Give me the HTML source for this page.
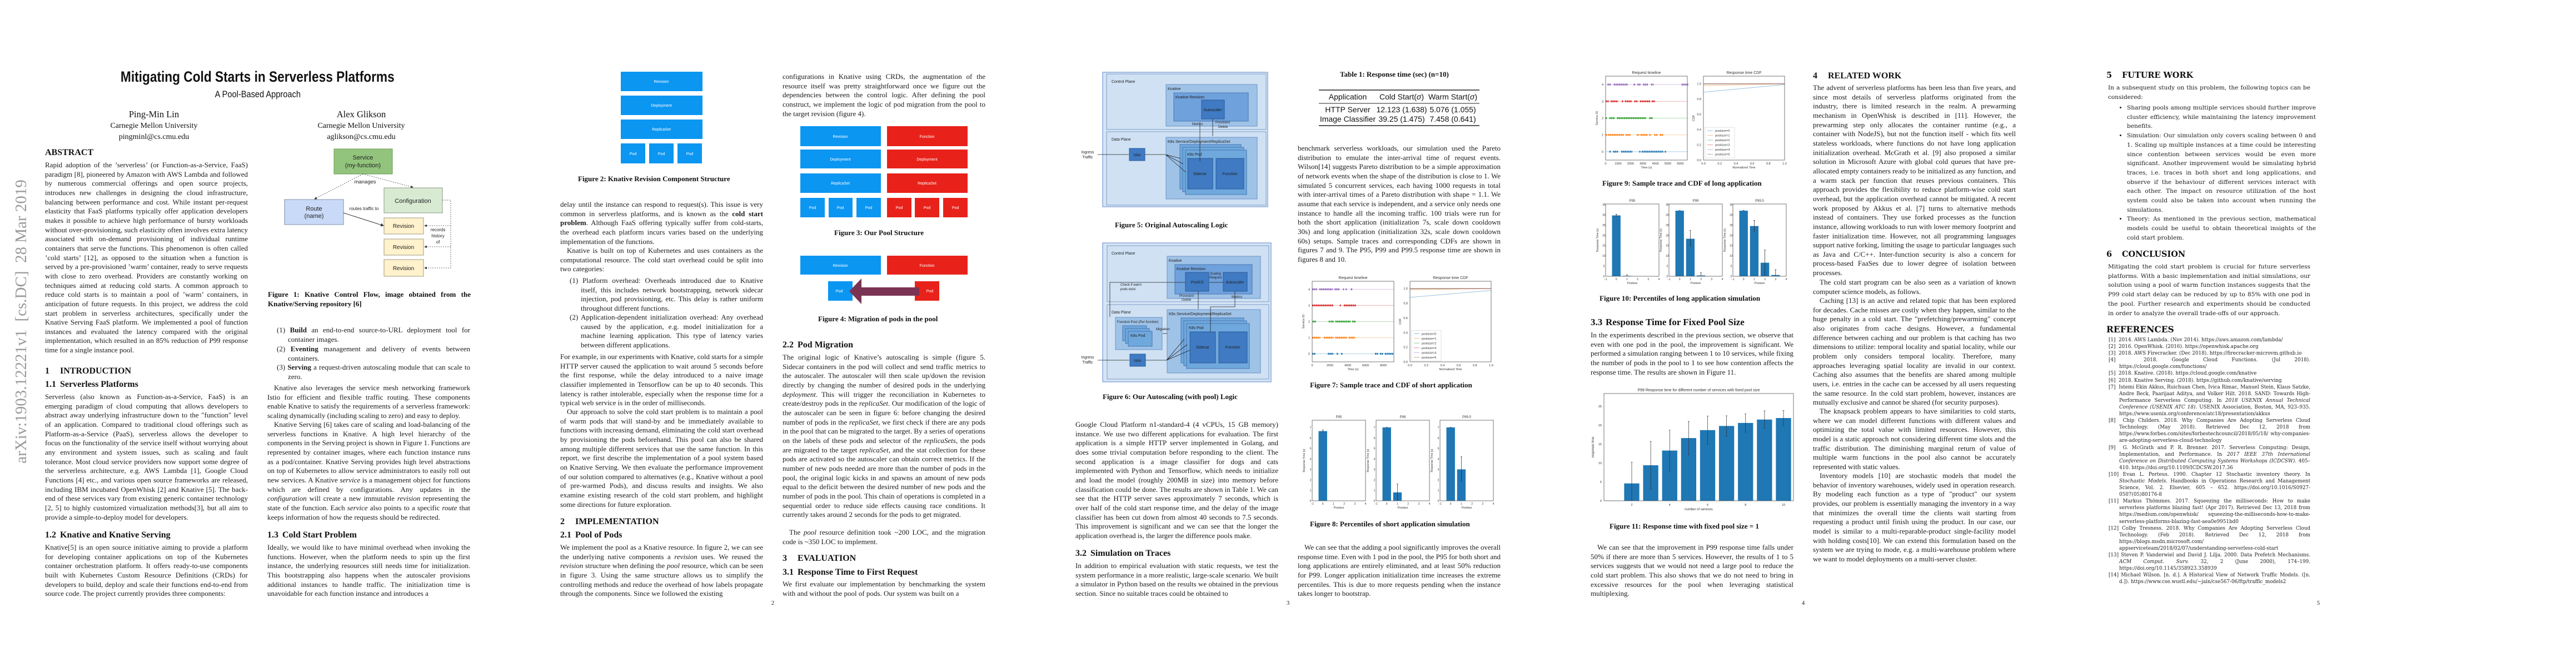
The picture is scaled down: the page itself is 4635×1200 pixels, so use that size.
<!DOCTYPE html>
<html><head><meta charset="utf-8"><title>Mitigating Cold Starts in Serverless Platforms</title>
<style>
html,body{margin:0;padding:0;background:#fff}
body{width:4635px;height:1200px;position:relative;overflow:hidden}
.pg{position:absolute;top:0;width:927px;height:1200px;background:#fff;overflow:hidden}
.p{position:absolute;margin:0;font:13px/16.65px "Liberation Serif",serif;text-align:justify;width:365px;color:#1b1b1b}
.ind{text-indent:12px}
.li{padding-left:37px;text-indent:-20px;width:328px}
.h{position:absolute;margin:0;font:bold 16px/20px "Liberation Serif",serif;color:#111;white-space:nowrap}
.h span{display:inline-block;width:27px}
.cap{position:absolute;margin:0;font:bold 13px/16.65px "Liberation Serif",serif;color:#111;white-space:nowrap}
.pn{position:absolute;top:1079px;left:0;width:927px;text-align:center;font:11px "Liberation Serif",serif;color:#222}
.p5{position:absolute;margin:0;font:10.6px/16.7px "DejaVu Serif",serif;text-align:justify;width:364px;color:#1b1b1b}
.h5{position:absolute;margin:0;font:bold 14.5px/18px "DejaVu Serif",serif;color:#111;white-space:nowrap}
.h5 span{display:inline-block;width:28px}
.ref{position:absolute;left:86px;width:363px;margin:0;font:8.8px/12.1px "DejaVu Serif",serif;color:#222}
.ref div{padding-left:19px;text-indent:-19px;text-align:justify}
svg{position:absolute;left:0;top:0}
svg text{font-family:"Liberation Sans",sans-serif}
</style></head><body>

<!-- PAGE 1 -->
<div class="pg" style="left:0">
<div style="position:absolute;left:-229px;top:562px;width:535px;text-align:center;font:29px 'Liberation Serif',serif;color:#9a9a9a;transform:rotate(-90deg);white-space:nowrap">arXiv:1903.12221v1&nbsp; [cs.DC]&nbsp; 28 Mar 2019</div>
<div style="position:absolute;left:0;width:927px;top:122px;text-align:center;font:bold 27px/32px 'Liberation Sans',sans-serif;color:#111"><span style="display:inline-block;transform:scaleX(0.84)">Mitigating Cold Starts in Serverless Platforms</span></div>
<div style="position:absolute;left:0;width:927px;top:160px;text-align:center;font:17px/20px 'Liberation Sans',sans-serif;color:#111"><span style="display:inline-block;transform:scaleX(0.86)">A Pool-Based Approach</span></div>
<div style="position:absolute;left:127px;width:300px;top:197px;text-align:center;font:16.5px/18.5px 'Liberation Serif',serif;color:#111">Ping-Min Lin<br><span style="font-size:14px">Carnegie Mellon University</span><br><span style="font-size:14px">pingminl@cs.cmu.edu</span></div>
<div style="position:absolute;left:500px;width:300px;top:197px;text-align:center;font:16.5px/18.5px 'Liberation Serif',serif;color:#111">Alex Glikson<br><span style="font-size:14px">Carnegie Mellon University</span><br><span style="font-size:14px">aglikson@cs.cmu.edu</span></div>
<div class="h" style="left:81px;top:265px">ABSTRACT</div>
<p class="p" style="left:81px;top:289px">Rapid adoption of the ’serverless’ (or Function-as-a-Service, FaaS) paradigm [8], pioneered by Amazon with AWS Lambda and followed by numerous commercial offerings and open source projects, introduces new challenges in designing the cloud infrastructure, balancing between performance and cost. While instant per-request elasticity that FaaS platforms typically offer application developers makes it possible to achieve high performance of bursty workloads without over-provisioning, such elasticity often involves extra latency associated with on-demand provisioning of individual runtime containers that serve the functions. This phenomenon is often called ’cold starts’ [12], as opposed to the situation when a function is served by a pre-provisioned ’warm’ container, ready to serve requests with close to zero overhead. Providers are constantly working on techniques aimed at reducing cold starts. A common approach to reduce cold starts is to maintain a pool of ’warm’ containers, in anticipation of future requests. In this project, we address the cold start problem in serverless architectures, specifically under the Knative Serving FaaS platform. We implemented a pool of function instances and evaluated the latency compared with the original implementation, which resulted in an 85% reduction of P99 response time for a single instance pool.</p>
<div class="h" style="left:81px;top:658px"><span>1</span>INTRODUCTION</div>
<div class="h" style="left:81px;top:682px"><span>1.1</span>Serverless Platforms</div>
<p class="p" style="left:81px;top:706px">Serverless (also known as Function-as-a-Service, FaaS) is an emerging paradigm of cloud computing that allows developers to abstract away underlying infrastructure down to the "function" level of an application. Compared to traditional cloud offerings such as Platform-as-a-Service (PaaS), serverless allows the developer to focus on the functionality of the service itself without worrying about any environment and system issues, such as scaling and fault tolerance. Most cloud service providers now support some degree of the serverless architecture, e.g. AWS Lambda [1], Google Cloud Functions [4] etc., and various open source frameworks are released, including IBM incubated OpenWhisk [2] and Knative [5]. The back-end of these services vary from existing generic container technology [2, 5] to highly customized virtualization methods[3], but all aim to provide a simple-to-deploy model for developers.</p>
<div class="h" style="left:81px;top:953px"><span>1.2</span>Knative and Knative Serving</div>
<p class="p" style="left:81px;top:977px">Knative[5] is an open source initiative aiming to provide a platform for developing container applications on top of the Kubernetes container orchestration platform. It offers ready-to-use components built with Kubernetes Custom Resource Definitions (CRDs) for developers to build, deploy and scale their functions end-to-end from source code. The project currently provides three components:</p>

<div class="cap" style="left:482px;top:522px;white-space:normal;width:365px;text-align:justify">Figure 1: Knative Control Flow, image obtained from the Knative/Serving repository [6]</div>
<p class="p li" style="left:481px;top:586px">(1) <b>Build</b> an end-to-end source-to-URL deployment tool for container images.</p>
<p class="p li" style="left:481px;top:620px">(2) <b>Eventing</b> management and delivery of events between containers.</p>
<p class="p li" style="left:481px;top:653px">(3) <b>Serving</b> a request-driven autoscaling module that can scale to zero.</p>
<p class="p ind" style="left:481px;top:690px">Knative also leverages the service mesh networking framework Istio for efficient and flexible traffic routing. These components enable Knative to satisfy the requirements of a serverless framework: scaling dynamically (including scaling to zero) and easy to deploy.</p>
<p class="p ind" style="left:481px;top:756px">Knative Serving [6] takes care of scaling and load-balancing of the serverless functions in Knative. A high level hierarchy of the components in the Serving project is shown in Figure 1. Functions are represented by container images, where each function instance runs as a pod/container. Knative Serving provides high level abstractions on top of Kubernetes to allow service administrators to easily roll out new services. A Knative <i>service</i> is a management object for functions which are defined by configurations. Any updates in the <i>configuration</i> will create a new immutable <i>revision</i> representing the state of the function. Each <i>service</i> also points to a specific <i>route</i> that keeps information of how the requests should be redirected.</p>
<div class="h" style="left:481px;top:953px"><span>1.3</span>Cold Start Problem</div>
<p class="p" style="left:481px;top:977px">Ideally, we would like to have minimal overhead when invoking the functions. However, when the platform needs to spin up the first instance, the underlying resources still needs time for initialization. This bootstrapping also happens when the autoscaler provisions additional instances to handle traffic. The initialization time is unavoidable for each function instance and introduces a</p>

<svg width="927" height="1200">
 <defs><marker id="ah" markerWidth="6" markerHeight="6" refX="5" refY="3" orient="auto"><path d="M0,0 L6,3 L0,6 z" fill="#333"/></marker></defs>
 <rect x="601" y="268" width="105" height="45" fill="#93c47d" stroke="#6a9a55"/>
 <text x="653" y="287" font-size="11" text-anchor="middle" fill="#222">Service</text>
 <text x="653" y="301" font-size="11" text-anchor="middle" fill="#222">(my-function)</text>
 <rect x="512" y="359" width="106" height="45" fill="#c9daf8" stroke="#7f8fa8"/>
 <text x="565" y="379" font-size="11" text-anchor="middle" fill="#222">Route</text>
 <text x="565" y="392" font-size="11" text-anchor="middle" fill="#222">(name)</text>
 <rect x="691" y="338" width="105" height="45" fill="#d9ead3" stroke="#8a9a86"/>
 <text x="743" y="365" font-size="11" text-anchor="middle" fill="#222">Configuration</text>
 <rect x="691" y="392" width="71" height="29" fill="#fff2cc" stroke="#a09a80"/>
 <rect x="691" y="430" width="71" height="29" fill="#fff2cc" stroke="#a09a80"/>
 <rect x="691" y="467" width="71" height="30" fill="#fff2cc" stroke="#a09a80"/>
 <text x="726" y="410" font-size="10" text-anchor="middle" fill="#222">Revision</text>
 <text x="726" y="448" font-size="10" text-anchor="middle" fill="#222">Revision</text>
 <text x="726" y="486" font-size="10" text-anchor="middle" fill="#222">Revision</text>
 <g stroke="#444" stroke-dasharray="2,2" fill="none" stroke-width="0.8">
  <line x1="653" y1="313" x2="566" y2="358" marker-end="url(#ah)"/>
  <line x1="653" y1="313" x2="743" y2="337" marker-end="url(#ah)"/>
  <polyline points="796,360 811,360 811,482 764,482" marker-end="url(#ah)"/>
  <line x1="811" y1="406" x2="764" y2="406" marker-end="url(#ah)"/>
  <line x1="811" y1="444" x2="764" y2="444" marker-end="url(#ah)"/>
 </g>
 <line x1="618" y1="383" x2="690" y2="406" stroke="#333" marker-end="url(#ah)"/>
 <text x="657" y="330" font-size="9.5" text-anchor="middle" fill="#222">manages</text>
 <text x="655" y="378" font-size="8" text-anchor="middle" fill="#222">routes traffic to</text>
 <text x="788" y="416" font-size="8" text-anchor="middle" fill="#222">records</text>
 <text x="788" y="427" font-size="8" text-anchor="middle" fill="#222">history</text>
 <text x="788" y="438" font-size="8" text-anchor="middle" fill="#222">of</text>
</svg>
</div>

<!-- PAGE 2 -->
<div class="pg" style="left:927px">
<svg width="927" height="1200">
 <g fill="#0b96f2">
  <rect x="190" y="129" width="147" height="35"/><rect x="190" y="172" width="147" height="35"/><rect x="190" y="215" width="147" height="35"/>
  <rect x="190" y="258" width="44" height="36"/><rect x="241" y="258" width="44" height="36"/><rect x="292" y="258" width="44" height="36"/>
 </g>
 <g fill="#fff" font-size="7" text-anchor="middle">
  <text x="263" y="149">Revision</text><text x="263" y="192">Deployment</text><text x="263" y="235">ReplicaSet</text>
  <text x="212" y="279">Pod</text><text x="263" y="279">Pod</text><text x="314" y="279">Pod</text>
 </g>
 <g>
  <g fill="#0b96f2"><rect x="513" y="227" width="145" height="36"/><rect x="513" y="269" width="145" height="34"/><rect x="513" y="312" width="145" height="35"/>
   <rect x="513" y="356" width="44" height="35"/><rect x="564" y="356" width="43" height="35"/><rect x="614" y="356" width="44" height="35"/></g>
  <g fill="#e8221a"><rect x="669" y="227" width="145" height="36"/><rect x="669" y="269" width="145" height="34"/><rect x="669" y="312" width="145" height="35"/>
   <rect x="669" y="356" width="44" height="35"/><rect x="719" y="356" width="44" height="35"/><rect x="770" y="356" width="44" height="35"/></g>
  <g fill="#fff" font-size="7" text-anchor="middle">
   <text x="585" y="248">Revision</text><text x="585" y="289">Deployment</text><text x="585" y="332">ReplicaSet</text>
   <text x="741" y="248">Function</text><text x="741" y="289">Deployment</text><text x="741" y="332">ReplicaSet</text>
   <text x="535" y="376">Pod</text><text x="585" y="376">Pod</text><text x="636" y="376">Pod</text>
   <text x="691" y="376">Pod</text><text x="741" y="376">Pod</text><text x="792" y="376">Pod</text></g>
 </g>
 <g>
  <rect x="513" y="460" width="145" height="34" fill="#0b96f2"/><rect x="669" y="460" width="145" height="34" fill="#e8221a"/>
  <rect x="563" y="506" width="44" height="35" fill="#0b96f2"/><rect x="719" y="506" width="44" height="35" fill="#e8221a"/>
  <polygon points="601,524 623,501 623,517 727,517 727,532 623,532 623,547" fill="#7b3354"/>
  <g fill="#fff" font-size="7" text-anchor="middle"><text x="585" y="480">Revision</text><text x="741" y="480">Function</text><text x="583" y="526">Pod</text><text x="746" y="526">Pod</text></g>
 </g>
</svg>
<div class="cap" style="left:113px;top:314px">Figure 2: Knative Revision Component Structure</div>
<p class="p" style="left:81px;top:360px">delay until the instance can respond to request(s). This issue is very common in serverless platforms, and is known as the <b>cold start problem</b>. Although FaaS offering typically suffer from cold-starts, the overhead each platform incurs varies based on the underlying implementation of the functions.</p>
<p class="p ind" style="left:81px;top:443px">Knative is built on top of Kubernetes and uses containers as the computational resource. The cold start overhead could be split into two categories:</p>
<p class="p li" style="left:81px;top:497px">(1) Platform overhead: Overheads introduced due to Knative itself, this includes network bootstrapping, network sidecar injection, pod provisioning, etc. This delay is rather uniform throughout different functions.</p>
<p class="p li" style="left:81px;top:563px">(2) Application-dependent initialization overhead: Any overhead caused by the application, e.g. model initialization for a machine learning application. This type of latency varies between different applications.</p>
<p class="p" style="left:81px;top:634px">For example, in our experiments with Knative, cold starts for a simple HTTP server caused the application to wait around 5 seconds before the first response, while the delay introduced to a naive image classifier implemented in Tensorflow can be up to 40 seconds. This latency is rather intolerable, especially when the response time for a typical web service is in the order of milliseconds.</p>
<p class="p ind" style="left:81px;top:733px">Our approach to solve the cold start problem is to maintain a pool of warm pods that will stand-by and be immediately available to functions with increasing demand, eliminating the cold start overhead by provisioning the pods beforehand. This pool can also be shared among multiple different services that use the same function. In this report, we first describe the implementation of a pool system based on Knative Serving. We then evaluate the performance improvement of our solution compared to alternatives (e.g., Knative without a pool of pre-warmed Pods), and discuss results and insights. We also examine existing research of the cold start problem, and highlight some directions for future exploration.</p>
<div class="h" style="left:81px;top:929px"><span>2</span>IMPLEMENTATION</div>
<div class="h" style="left:81px;top:953px"><span>2.1</span>Pool of Pods</div>
<p class="p" style="left:81px;top:977px">We implement the pool as a Knative resource. In figure 2, we can see the underlying native components a <i>revision</i> uses. We reused the <i>revision</i> structure when defining the <i>pool</i> resource, which can be seen in figure 3. Using the same structure allows us to simplify the controlling methods and reduce the overhead of how labels propagate through the components. Since we followed the existing</p>

<p class="p" style="left:481px;top:130px">configurations in Knative using CRDs, the augmentation of the resource itself was pretty straightforward once we figure out the dependencies between the control logic. After defining the pool construct, we implement the logic of pod migration from the pool to the target revision (figure 4).</p>
<div class="cap" style="left:574px;top:411px">Figure 3: Our Pool Structure</div>
<div class="cap" style="left:545px;top:566px">Figure 4: Migration of pods in the pool</div>
<div class="h" style="left:481px;top:611px"><span>2.2</span>Pod Migration</div>
<p class="p" style="left:481px;top:635px">The original logic of Knative’s autoscaling is simple (figure 5. Sidecar containers in the pod will collect and send traffic metrics to the autoscaler. The autoscaler will then scale up/down the revision directly by changing the number of desired pods in the underlying <i>deployment</i>. This will trigger the reconciliation in Kubernetes to create/destroy pods in the <i>replicaSet</i>. Our modification of the logic of the autoscaler can be seen in figure 6: before changing the desired number of pods in the <i>replicaSet</i>, we first check if there are any pods in the pool that can be migrated to the target. By a series of operations on the labels of these pods and selector of the <i>replicaSets</i>, the pods are migrated to the target <i>replicaSet</i>, and the stat collection for these pods are activated so the autoscaler can obtain correct metrics. If the number of new pods needed are more than the number of pods in the pool, the original logic kicks in and spawns an amount of new pods equal to the deficit between the desired number of new pods and the number of pods in the pool. This chain of operations is completed in a sequential order to reduce side effects causing race conditions. It currently takes around 2 seconds for the pods to get migrated.</p>
<p class="p ind" style="left:481px;top:950px">The <i>pool</i> resource definition took ~200 LOC, and the migration code is ~350 LOC to implement.</p>
<div class="h" style="left:481px;top:995px"><span>3</span>EVALUATION</div>
<div class="h" style="left:481px;top:1020px"><span>3.1</span>Response Time to First Request</div>
<p class="p" style="left:481px;top:1043px">We first evaluate our implementation by benchmarking the system with and without the pool of pods. Our system was built on a</p>
<div class="pn">2</div>
</div>

<!-- PAGE 3 -->
<div class="pg" style="left:1854px">
<svg width="927" height="1200" id="svg3">
 <g font-size="7" fill="#222">
  <rect x="130" y="130" width="297" height="242" fill="#d5e5f5" stroke="#8eaadb" stroke-width="1.5"/>
  <rect x="137" y="133" width="287" height="100" fill="#cfe1f3" stroke="#7f9cc9"/>
  <rect x="137" y="237" width="287" height="132" fill="#cfe1f3" stroke="#7f9cc9"/>
  <text x="146" y="149" fill="#222">Control Plane</text><text x="146" y="253" fill="#222">Data Plane</text>
  <rect x="244" y="152" width="164" height="75" fill="#9fc2e7" stroke="#6d93c6"/><text x="247" y="162">Knative</text>
  <rect x="258" y="167" width="134" height="51" fill="#6fa1dc" stroke="#4a77b3"/><text x="261" y="177">Knative Revision</text>
  <rect x="308" y="180" width="41" height="34" fill="#3f7ac2" stroke="#2b5a99"/><text x="328" y="200" text-anchor="middle">Autoscaler</text>
  <rect x="244" y="247" width="164" height="111" fill="#9fc2e7" stroke="#6d93c6"/><text x="247" y="257">K8s Service/Deployment/ReplicaSet</text>
  <rect x="269" y="260" width="110" height="80" fill="#6fa8dc" stroke="#4a77b3"/>
  <rect x="274" y="265" width="110" height="80" fill="#6fa8dc" stroke="#4a77b3"/>
  <rect x="279" y="270" width="110" height="80" fill="#6fa8dc" stroke="#4a77b3"/><text x="282" y="280">K8s Pod</text>
  <rect x="283" y="285" width="45" height="55" fill="#3f7ac2" stroke="#2b5a99"/><text x="305" y="315" text-anchor="middle">Sidecar</text>
  <rect x="334" y="285" width="50" height="55" fill="#3f7ac2" stroke="#2b5a99"/><text x="359" y="315" text-anchor="middle">Function</text>
  <rect x="178" y="267" width="28" height="22" fill="#3f7ac2" stroke="#2b5a99"/><text x="192" y="281" text-anchor="middle">Istio</text>
  <text x="103" y="276" text-anchor="middle">Ingress</text><text x="103" y="285" text-anchor="middle">Traffic</text>
  <g stroke="#222" stroke-width="0.8" fill="none"><line x1="121" y1="278" x2="177" y2="278"/><line x1="206" y1="278" x2="242" y2="278"/>
   <line x1="243" y1="278" x2="270" y2="285"/><line x1="243" y1="278" x2="275" y2="295"/><line x1="243" y1="278" x2="280" y2="310"/>
   <line x1="305" y1="290" x2="305" y2="220"/><line x1="328" y1="214" x2="328" y2="245"/></g>
  <text x="291" y="225" font-size="6">Metrics</text><text x="333" y="222" font-size="6">Provision/</text><text x="338" y="230" font-size="6">Delete</text>
 </g>
 <g font-size="7" fill="#222">
  <rect x="130" y="437" width="303" height="250" fill="#d5e5f5" stroke="#8eaadb" stroke-width="1.5"/>
  <rect x="138" y="442" width="291" height="101" fill="#cfe1f3" stroke="#7f9cc9"/>
  <rect x="138" y="548" width="291" height="134" fill="#cfe1f3" stroke="#7f9cc9"/>
  <text x="146" y="458">Control Plane</text><text x="146" y="564">Data Plane</text>
  <rect x="246" y="461" width="168" height="76" fill="#9fc2e7" stroke="#6d93c6"/><text x="249" y="471">Knative</text>
  <rect x="260" y="476" width="139" height="53" fill="#6fa1dc" stroke="#4a77b3"/><text x="263" y="486">Knative Revision</text>
  <rect x="279" y="490" width="42" height="34" fill="#3f7ac2" stroke="#2b5a99"/><text x="300" y="510" text-anchor="middle">PoolCtl</text>
  <rect x="347" y="490" width="43" height="34" fill="#3f7ac2" stroke="#2b5a99"/><text x="368" y="510" text-anchor="middle">Autoscaler</text>
  <rect x="246" y="557" width="168" height="114" fill="#9fc2e7" stroke="#6d93c6"/><text x="249" y="567">K8s Service/Deployment/ReplicaSet</text>
  <rect x="153" y="571" width="84" height="58" fill="#9fc2e7" stroke="#6d93c6"/><text x="156" y="581" font-size="6">Function Pool (Per function)</text>
  <rect x="166" y="586" width="43" height="27" fill="#6fa8dc" stroke="#4a77b3"/><rect x="171" y="591" width="43" height="27" fill="#6fa8dc" stroke="#4a77b3"/><rect x="176" y="596" width="43" height="27" fill="#6fa8dc" stroke="#4a77b3"/>
  <text x="180" y="606">K8s Pod</text>
  <rect x="271" y="572" width="113" height="81" fill="#6fa8dc" stroke="#4a77b3"/><rect x="276" y="577" width="113" height="81" fill="#6fa8dc" stroke="#4a77b3"/><rect x="281" y="582" width="113" height="81" fill="#6fa8dc" stroke="#4a77b3"/>
  <text x="285" y="592">K8s Pod</text>
  <rect x="287" y="597" width="46" height="56" fill="#3f7ac2" stroke="#2b5a99"/><text x="310" y="627" text-anchor="middle">Sidecar</text>
  <rect x="339" y="597" width="51" height="56" fill="#3f7ac2" stroke="#2b5a99"/><text x="364" y="627" text-anchor="middle">Function</text>
  <rect x="179" y="637" width="28" height="22" fill="#3f7ac2" stroke="#2b5a99"/><text x="193" y="651" text-anchor="middle">Istio</text>
  <text x="103" y="645" text-anchor="middle">Ingress</text><text x="103" y="654" text-anchor="middle">Traffic</text>
  <g stroke="#222" stroke-width="0.8" fill="none"><line x1="121" y1="648" x2="178" y2="648"/><line x1="207" y1="648" x2="245" y2="648"/>
   <line x1="245" y1="648" x2="277" y2="610"/><line x1="245" y1="648" x2="282" y2="620"/><line x1="245" y1="648" x2="287" y2="630"/>
   <polyline points="279,508 143,508 143,570"/><line x1="347" y1="508" x2="322" y2="508"/><line x1="302" y1="524" x2="302" y2="556"/>
   <polyline points="324,597 324,552 368,552 368,524"/><line x1="238" y1="600" x2="246" y2="600"/></g>
  <text x="162" y="514" font-size="6">Check if warm</text><text x="162" y="522" font-size="6">pods exist</text>
  <text x="323" y="494" font-size="6">Scaling</text><text x="322" y="501" font-size="6">Request</text>
  <text x="268" y="534" font-size="6">Provision/</text><text x="272" y="541" font-size="6">Delete</text><text x="362" y="536" font-size="6">Metrics</text>
  <text x="226" y="594" font-size="6">Migration</text>
 </g>
 <g font-family="Liberation Serif" font-size="14" fill="#111">
  <line x1="519" y1="162" x2="808" y2="162" stroke="#222" stroke-width="1.4"/>
  <line x1="519" y1="186" x2="808" y2="186" stroke="#222" stroke-width="0.9"/>
  <line x1="519" y1="226" x2="808" y2="226" stroke="#222" stroke-width="1.4"/>
  <text x="571" y="179" text-anchor="middle" font-family="Liberation Serif">Application</text>
  <text x="668" y="179" text-anchor="middle" font-family="Liberation Serif">Cold Start(<tspan font-style="italic">σ</tspan>)</text>
  <text x="760" y="179" text-anchor="middle" font-family="Liberation Serif">Warm Start(<tspan font-style="italic">σ</tspan>)</text>
  <text x="571" y="202" text-anchor="middle" font-family="Liberation Serif">HTTP Server</text>
  <text x="668" y="202" text-anchor="middle" font-family="Liberation Serif">12.123 (1.638)</text>
  <text x="760" y="202" text-anchor="middle" font-family="Liberation Serif">5.076 (1.055)</text>
  <text x="571" y="219" text-anchor="middle" font-family="Liberation Serif">Image Classifier</text>
  <text x="668" y="219" text-anchor="middle" font-family="Liberation Serif">39.25 (1.475)</text>
  <text x="760" y="219" text-anchor="middle" font-family="Liberation Serif">7.458 (0.641)</text>
 </g>
</svg>
<div class="cap" style="left:152px;top:397px">Figure 5: Original Autoscaling Logic</div>
<div class="cap" style="left:130px;top:706px">Figure 6: Our Autoscaling (with pool) Logic</div>
<p class="p" style="left:81px;top:756px">Google Cloud Platform n1-standard-4 (4 vCPUs, 15 GB memory) instance. We use two different applications for evaluation. The first application is a simple HTTP server implemented in Golang, and does some trivial computation before responding to the client. The second application is a image classifier for dogs and cats implemented with Python and Tensorflow, which needs to initialize and load the model (roughly 200MB in size) into memory before classification could be done. The results are shown in Table 1. We can see that the HTTP server saves approximately 7 seconds, which is over half of the cold start response time, and the delay of the image classifier has been cut down from almost 40 seconds to 7.5 seconds. This improvement is significant and we can see that the longer the application overhead is, the larger the difference pools make.</p>
<div class="h" style="left:81px;top:986px"><span>3.2</span>Simulation on Traces</div>
<p class="p" style="left:81px;top:1010px">In addition to empirical evaluation with static requests, we test the system performance in a more realistic, large-scale scenario. We built a simulator in Python based on the results we obtained in the previous section. Since no suitable traces could be obtained to</p>
<div class="cap" style="left:557px;top:126px">Table 1: Response time (sec) (n=10)</div>
<p class="p" style="left:481px;top:259px">benchmark serverless workloads, our simulation used the Pareto distribution to emulate the inter-arrival time of request events. Wilson[14] suggests Pareto distribution to be a simple approximation of network events when the shape of the distribution is close to 1. We simulated 5 concurrent services, each having 1000 requests in total with inter-arrival times of a Pareto distribution with shape = 1.1. We assume that each service is independent, and a service only needs one instance to handle all the incoming traffic. 100 trials were run for both the short application (initialization 7s, scale down cooldown 30s) and long application (initialization 32s, scale down cooldown 60s) setups. Sample traces and corresponding CDFs are shown in figures 7 and 9. The P95, P99 and P99.5 response time are shown in figures 8 and 10.</p>
<div class="cap" style="left:503px;top:685px">Figure 7: Sample trace and CDF of short application</div>
<div class="cap" style="left:503px;top:935px">Figure 8: Percentiles of short application simulation</div>
<p class="p ind" style="left:481px;top:977px">We can see that the adding a pool significantly improves the overall response time. Even with 1 pod in the pool, the P95 for both short and long applications are entirely eliminated, and at least 50% reduction for P99. Longer application initialization time increases the extreme percentiles. This is due to more requests pending when the instance takes longer to bootstrap.</p>
<div class="pn">3</div>
</div>

<!-- PAGE 4 -->
<div class="pg" style="left:2781px">
<svg width="927" height="1200" id="svg4"></svg>
<div class="cap" style="left:102px;top:322px">Figure 9: Sample trace and CDF of long application</div>
<div class="cap" style="left:97px;top:529px">Figure 10: Percentiles of long application simulation</div>
<div class="h" style="left:81px;top:570px;font-size:17px"><span>3.3</span>Response Time for Fixed Pool Size</div>
<p class="p" style="left:81px;top:595px">In the experiments described in the previous section, we observe that even with one pod in the pool, the improvement is significant. We performed a simulation ranging between 1 to 10 services, while fixing the number of pods in the pool to 1 to see how contention affects the response time. The results are shown in Figure 11.</p>
<div class="cap" style="left:115px;top:939px">Figure 11: Response time with fixed pool size = 1</div>
<p class="p ind" style="left:81px;top:977px">We can see that the improvement in P99 response time falls under 50% if there are more than 5 services. However, the results of 1 to 5 services suggests that we would not need a large pool to reduce the cold start problem. This also shows that we do not need to bring in excessive resources for the pool when leveraging statistical multiplexing.</p>
<div class="h" style="left:481px;top:127px"><span>4</span>RELATED WORK</div>
<p class="p" style="left:481px;top:150px">The advent of serverless platforms has been less than five years, and since most details of serverless platforms originated from the industry, there is limited research in the realm. A prewarming mechanism in OpenWhisk is described in [11]. However, the prewarming step only allocates the container runtime (e.g., a container with NodeJS), but not the function itself - which fits well stateless workloads, where functions do not have long application initialization overhead. McGrath et al. [9] also proposed a similar solution in Microsoft Azure with global cold queues that have pre-allocated empty containers ready to be initialized as any function, and a warm stack per function that reuses previous containers. This approach provides the flexibility to reduce platform-wise cold start overhead, but the application overhead cannot be mitigated. A recent work proposed by Akkus et al. [7] turns to alternative methods instead of containers. They use forked processes as the function instance, allowing workloads to run with lower memory footprint and faster initialization time. However, not all programming languages support native forking, limiting the usage to particular languages such as Java and C/C++. Inter-function security is also a concern for process-based FaaSes due to lower degree of isolation between processes.</p>
<p class="p ind" style="left:481px;top:500px">The cold start program can be also seen as a variation of known computer science models, as follows.</p>
<p class="p ind" style="left:481px;top:533px">Caching [13] is an active and related topic that has been explored for decades. Cache misses are costly when they happen, similar to the huge penalty in a cold start. The "prefetching/prewarming" concept also originates from cache designs. However, a fundamental difference between caching and our problem is that caching has two dimensions to utilize: temporal locality and spatial locality, while our problem only considers temporal locality. Therefore, many approaches leveraging spatial locality are invalid in our context. Caching also assumes that the benefits are shared among multiple users, i.e. entries in the cache can be accessed by all users requesting the same resource. In the cold start problem, however, instances are mutually exclusive and cannot be shared (for security purposes).</p>
<p class="p ind" style="left:481px;top:732px">The knapsack problem appears to have similarities to cold starts, where we can model different functions with different values and optimizing the total value with limited resources. However, this model is a static approach not considering different time slots and the traffic distribution. The diminishing marginal return of value of multiple warm functions in the pool also cannot be accurately represented with static values.</p>
<p class="p ind" style="left:481px;top:848px">Inventory models [10] are stochastic models that model the behavior of inventory warehouses, widely used in operation research. By modeling each function as a type of "product" our system provides, our problem is essentially managing the inventory in a way that minimizes the overall time the clients wait starting from requesting a product until finish using the product. In our case, our model is similar to a multi-reparable-product single-facility model with holding costs[10]. We can extend this formulation based on the system we are trying to mode, e.g. a multi-warehouse problem where we want to model deployments on a multi-server cluster.</p>
<div class="pn">4</div>
</div>

<!-- PAGE 5 -->
<div class="pg" style="left:3708px">
<div class="h5" style="left:82px;top:127px"><span>5</span>FUTURE WORK</div>
<p class="p5" style="left:85px;top:150px">In a subsequent study on this problem, the following topics can be considered:</p>
<ul style="position:absolute;left:109px;top:186px;width:340px;margin:0;padding:0 0 0 10px;font:10.6px/16.7px 'DejaVu Serif',serif;text-align:justify;color:#1b1b1b">
<li>Sharing pools among multiple services should further improve cluster efficiency, while maintaining the latency improvement benefits.</li>
<li>Simulation: Our simulation only covers scaling between 0 and 1. Scaling up multiple instances at a time could be interesting since contention between services would be even more significant. Another improvement would be simulating hybrid traces, i.e. traces in both short and long applications, and observe if the behaviour of different services interact with each other. The impact on resource utilization of the host system could also be taken into account when running the simulations.</li>
<li>Theory: As mentioned in the previous section, mathematical models could be useful to obtain theoretical insights of the cold start problem.</li>
</ul>
<div class="h5" style="left:82px;top:449px"><span>6</span>CONCLUSION</div>
<p class="p5" style="left:85px;top:472px">Mitigating the cold start problem is crucial for future serverless platforms. With a basic implementation and initial simulations, our solution using a pool of warm function instances suggests that the P99 cold start delay can be reduced by up to 85% with one pod in the pool. Further research and experiments should be conducted in order to analyze the overall trade-offs of our approach.</p>
<div class="h5" style="left:82px;top:584px;font-size:15.5px">REFERENCES</div>
<div class="ref" style="top:606px">
<div>[1]&nbsp; 2014. AWS Lambda. (Nov 2014). https://aws.amazon.com/lambda/</div>
<div>[2]&nbsp; 2016. OpenWhisk. (2016). https://openwhisk.apache.org</div>
<div>[3]&nbsp; 2018. AWS Firecracker. (Dec 2018). https://firecracker-microvm.github.io</div>
<div>[4]&nbsp; 2018. Google Cloud Functions. (Jul 2018). https://cloud.google.com/functions/</div>
<div>[5]&nbsp; 2018. Knative. (2018). https://cloud.google.com/knative</div>
<div>[6]&nbsp; 2018. Knative Serving. (2018). https://github.com/knative/serving</div>
<div>[7]&nbsp; Istemi Ekin Akkus, Ruichuan Chen, Ivica Rimac, Manuel Stein, Klaus Satzke, Andre Beck, Paarijaat Aditya, and Volker Hilt. 2018. SAND: Towards High-Performance Serverless Computing. In <i>2018 USENIX Annual Technical Conference (USENIX ATC 18)</i>. USENIX Association, Boston, MA, 923–935. https://www.usenix.org/conference/atc18/presentation/akkus</div>
<div>[8]&nbsp; Chip Childers. 2018. Why Companies Are Adopting Serverless Cloud Technology. (May 2018). Retrieved Dec 12, 2018 from https://www.forbes.com/sites/forbestechcouncil/2018/05/18/ why-companies-are-adopting-serverless-cloud-technology</div>
<div>[9]&nbsp; G. McGrath and P. R. Brenner. 2017. Serverless Computing: Design, Implementation, and Performance. In <i>2017 IEEE 37th International Conference on Distributed Computing Systems Workshops (ICDCSW)</i>. 405–410. https://doi.org/10.1109/ICDCSW.2017.36</div>
<div>[10] Evan L. Porteus. 1990. Chapter 12 Stochastic inventory theory. In <i>Stochastic Models</i>. Handbooks in Operations Research and Management Science, Vol. 2. Elsevier, 605 – 652. https://doi.org/10.1016/S0927-0507(05)80176-8</div>
<div>[11] Markus Thömmes. 2017. Squeezing the milliseconds: How to make serverless platforms blazing fast! (Apr 2017). Retrieved Dec 13, 2018 from https://medium.com/openwhisk/ squeezing-the-milliseconds-how-to-make-serverless-platforms-blazing-fast-aea0e9951bd0</div>
<div>[12] Colby Tresness. 2018. Why Companies Are Adopting Serverless Cloud Technology. (Feb 2018). Retrieved Dec 12, 2018 from https://blogs.msdn.microsoft.com/ appserviceteam/2018/02/07/understanding-serverless-cold-start</div>
<div>[13] Steven P. Vanderwiel and David J. Lilja. 2000. Data Prefetch Mechanisms. <i>ACM Comput. Surv.</i> 32, 2 (June 2000), 174–199. https://doi.org/10.1145/358923.358939</div>
<div>[14] Michael Wilson. [n. d.]. A Historical View of Network Traffic Models. ([n. d.]). https://www.cse.wustl.edu/~jain/cse567-06/ftp/traffic_models2</div>
</div>
<div class="pn">5</div>
</div>

<script>
// ---------- chart data ----------
const serviceIds = [0, 1, 2, 3, 4];
const timelineTicksShort = [0, 2000, 4000, 6000, 8000];
const timelineTicksLong = [0, 1000, 2000, 3000, 4000, 5000, 6000];
const shortBursts0 = [[0,350],[1750,2400],[2750,2950],[3250,3400],[7050,7450],[7600,8000],[8150,9100]];
const shortBursts1 = [[0,900],[1300,2400],[2600,3900],[4100,4800]];
const shortBursts2 = [[50,450],[1850,1950],[2050,2400],[2600,4300],[4500,4900]];
const shortBursts3 = [[0,2350],[3100,3200],[3550,4900]];
const shortBursts4 = [[0,600],[800,2300],[2500,3100],[3450,3550],[3750,3850],[4350,4550]];
const longBursts0 = [[300,450],[600,1000],[1250,2150],[2700,2800],[2900,4650],[4750,4850]];
const longBursts1 = [[0,150],[200,1450],[1600,2000],[2500,2700],[2800,3400],[3500,3650],[3900,4200],[4350,4650]];
const longBursts2 = [[0,100],[300,750],[900,3250],[3500,3800]];
const longBursts3 = [[0,250],[400,1000],[1300,1400],[1550,2100],[2300,2600],[2750,3600],[3700,3950]];
const longBursts4 = [[150,450],[650,1800],[2250,2400],[2550,2800],[3000,3400],[3650,3850],[6100,6650]];
const cdfLabels = ['poolsize=0','poolsize=1','poolsize=2','poolsize=3','poolsize=4','poolsize=5'];
const cdfShortStart = [0.88, 0.985, 0.995, 1.0, 1.0, 1.0];
const cdfShortEnd = [0.975, 1.0, 1.0, 1.0, 1.0, 1.0];
const cdfLongStart = [0.89, 0.975, 0.995, 1.0, 1.0, 1.0];
const cdfLongEnd = [0.99, 1.0, 1.0, 1.0, 1.0, 1.0];
const cdfTicks = [0.0, 0.2, 0.4, 0.6, 0.8, 1.0];
const poolSizes = [0, 1, 2, 3];
const poolTicks = [-1, 0, 1, 2, 3, 4];
const shortP95 = [6.65, 0, 0, 0];
const shortP95Err = [0.12, 0, 0, 0];
const shortP99 = [7.0, 0.8, 0, 0];
const shortP99Err = [0.01, 0.8, 0, 0];
const shortP995 = [7.0, 3.0, 0, 0];
const shortP995Err = [0.01, 1.2, 0, 0];
const shortTicks = [0, 1, 2, 3, 4, 5, 6, 7];
const longP95 = [29.7, 0.2, 0, 0];
const longP95Err = [0.6, 0.5, 0, 0];
const longP99 = [32.0, 18.3, 0.4, 0];
const longP99Err = [0.1, 4.0, 1.3, 0];
const longP995 = [32.0, 24.5, 6.6, 0.6];
const longP995Err = [0.1, 2.8, 6.2, 2.6];
const longTicks = [0, 5, 10, 15, 20, 25, 30, 35];
const serviceCounts = [1, 2, 3, 4, 5, 6, 7, 8, 9, 10];
const fixedPoolP99 = [0.05, 4.6, 9.4, 13.3, 16.6, 18.7, 19.8, 20.6, 21.5, 21.9];
const fixedPoolErr = [0, 5.6, 6.3, 5.4, 4.4, 3.7, 2.7, 2.4, 2.3, 2.0];
const fixedXTicks = [2, 4, 6, 8, 10];
const fixedYTicks = [0, 5, 10, 15, 20, 25];

// ---------- drawing ----------
const NS = 'http://www.w3.org/2000/svg';
const TAB = ['#1f77b4','#ff7f0e','#2ca02c','#d62728','#9467bd','#8c564b'];
function mk(p, tag, a) { const e = document.createElementNS(NS, tag); for (const k in a) e.setAttribute(k, a[k]); p.appendChild(e); return e; }
function txt(p, x, y, s, size, anchor, rot) {
  const t = mk(p, 'text', {x: x, y: y, 'font-size': size, 'text-anchor': anchor || 'middle', fill: '#333'});
  if (rot) t.setAttribute('transform', 'rotate(-90 ' + x + ' ' + y + ')');
  t.textContent = s; return t;
}
function frame(g, b) { return mk(g, 'rect', {x: b.x0, y: b.y0, width: b.x1 - b.x0, height: b.y1 - b.y0, fill: 'none', stroke: '#555', 'stroke-width': 0.8}); }

function timeline(svg, b, xmax, ymin, ymax, burstSets, ticks, name) {
  const g = mk(svg, 'g', {});
  
  
  const X = v => b.x0 + (v / xmax) * (b.x1 - b.x0);
  const Y = v => b.y1 - (v - ymin) / (ymax - ymin) * (b.y1 - b.y0);
  burstSets.forEach((bursts, i) => {
    const base = mk(g, 'line', {x1: b.x0, x2: b.x1, y1: Y(serviceIds[i]), y2: Y(serviceIds[i]), stroke: TAB[i], 'stroke-opacity': 0.3, 'stroke-width': 1.2});
    
    
    bursts.forEach(bu => {
      const seg = mk(g, 'line', {x1: X(bu[0]), x2: Math.max(X(bu[1]), X(bu[0]) + 2), y1: Y(serviceIds[i]), y2: Y(serviceIds[i]), stroke: TAB[i], 'stroke-width': 3.2, 'stroke-dasharray': '2.4,0.8'});
      
      
    });
    txt(g, b.x0 - 4, Y(serviceIds[i]) + 2, String(serviceIds[i]), 5.5, 'end');
  });
  ticks.forEach(t => txt(g, X(t), b.y1 + 8, String(t), 5.5));
  txt(g, (b.x0 + b.x1) / 2, b.y1 + 15, 'Time (s)', 5.5);
  txt(g, (b.x0 + b.x1) / 2, b.y0 - 4, 'Request timeline', 7);
  txt(g, b.x0 - 14, (b.y0 + b.y1) / 2, 'Service ID', 5.5, 'middle', true);
  frame(g, b);
}

function cdfChart(svg, b, starts, ends, name) {
  const g = mk(svg, 'g', {});
  
  
  const ymax = 1.1;
  const X = v => b.x0 + v * (b.x1 - b.x0);
  const Y = v => b.y1 - v / ymax * (b.y1 - b.y0);
  starts.forEach((s, i) => {
    const l = mk(g, 'line', {x1: X(0), y1: Y(s), x2: X(1), y2: Y(ends[i]), stroke: TAB[i], 'stroke-opacity': 0.45, 'stroke-width': 1});
    
    
  });
  cdfTicks.forEach(t => { txt(g, b.x0 - 4, Y(t) + 2, t.toFixed(1), 5.5, 'end'); txt(g, X(t), b.y1 + 8, t.toFixed(1), 5.5); });
  txt(g, (b.x0 + b.x1) / 2, b.y1 + 15, 'Normalized Time', 5.5);
  txt(g, (b.x0 + b.x1) / 2, b.y0 - 4, 'Response time CDF', 7);
  txt(g, b.x0 - 16, (b.y0 + b.y1) / 2, 'CDF', 5.5, 'middle', true);
  const lg = mk(g, 'g', {});
  
  
  const lx = b.x0 + 3, ly = Y(0.4) - 4;
  mk(lg, 'rect', {x: lx, y: ly, width: 53, height: 55, fill: '#fff', stroke: '#ccc', 'stroke-width': 0.6});
  cdfLabels.forEach((lab, i) => {
    mk(lg, 'line', {x1: lx + 4, x2: lx + 14, y1: ly + 6 + i * 8.5, y2: ly + 6 + i * 8.5, stroke: TAB[i], 'stroke-opacity': 0.5});
    txt(lg, lx + 18, ly + 8 + i * 8.5, lab, 5.5, 'start');
  });
  frame(g, b);
}

function barPanel(svg, b, ypx0, pxPerUnit, xs, vals, errs, yticks, title, name) {
  const g = mk(svg, 'g', {});
  
  
  const X = v => b.x0 + (v + 1) / 5 * (b.x1 - b.x0);
  const Y = v => ypx0 - v * pxPerUnit;
  const w = 0.8 / 5 * (b.x1 - b.x0);
  vals.forEach((v, i) => {
    const r = mk(g, 'rect', {x: X(xs[i]) - w / 2, y: Y(v), width: w, height: Math.max(0, ypx0 - Y(v)), fill: '#1f77b4'});
    
    
    if (errs[i] > 0) {
      const e = mk(g, 'line', {x1: X(xs[i]), x2: X(xs[i]), y1: Y(Math.max(0, v - errs[i])), y2: Y(v + errs[i]), stroke: '#222', 'stroke-width': 0.7});
      
      
      mk(g, 'line', {x1: X(xs[i]) - 1.5, x2: X(xs[i]) + 1.5, y1: Y(v + errs[i]), y2: Y(v + errs[i]), stroke: '#222', 'stroke-width': 0.7});
    }
  });
  yticks.forEach(t => txt(g, b.x0 - 3, Y(t) + 2, String(t), 5));
  poolTicks.forEach(t => txt(g, X(t), b.y1 + 7, String(t).replace('-', '−'), 5));
  txt(g, (b.x0 + b.x1) / 2, b.y1 + 14, 'Poolsize', 5);
  txt(g, (b.x0 + b.x1) / 2, b.y0 - 4, title, 6);
  txt(g, b.x0 - 13, (b.y0 + b.y1) / 2, 'Response Time (s)', 5, 'middle', true);
  frame(g, b);
}

const svg3 = document.getElementById('svg3');
timeline(svg3, {x0: 507, x1: 654, y0: 506, y1: 651}, 9170, -0.5, 4.5,
  [shortBursts0, shortBursts1, shortBursts2, shortBursts3, shortBursts4], timelineTicksShort, 'figure-7-timeline-chart');
cdfChart(svg3, {x0: 683, x1: 829, y0: 506, y1: 651}, cdfShortStart, cdfShortEnd, 'figure-7-cdf-chart');
barPanel(svg3, {x0: 507, x1: 603, y0: 756, y1: 901}, 901, 18.86, poolSizes, shortP95, shortP95Err, shortTicks, 'P95', 'figure-8-p95-chart');
barPanel(svg3, {x0: 622, x1: 718, y0: 756, y1: 901}, 901, 18.86, poolSizes, shortP99, shortP99Err, shortTicks, 'P99', 'figure-8-p99-chart');
barPanel(svg3, {x0: 737, x1: 833, y0: 756, y1: 901}, 901, 18.86, poolSizes, shortP995, shortP995Err, shortTicks, 'P99.5', 'figure-8-p995-chart');

const svg4 = document.getElementById('svg4');
timeline(svg4, {x0: 108, x1: 255, y0: 137, y1: 288}, 6560, -0.5, 4.5,
  [longBursts0, longBursts1, longBursts2, longBursts3, longBursts4], timelineTicksLong, 'figure-9-timeline-chart');
cdfChart(svg4, {x0: 284, x1: 430, y0: 137, y1: 288}, cdfLongStart, cdfLongEnd, 'figure-9-cdf-chart');
barPanel(svg4, {x0: 108, x1: 204, y0: 367, y1: 497}, 497, 3.686, poolSizes, longP95, longP95Err, longTicks, 'P95', 'figure-10-p95-chart');
barPanel(svg4, {x0: 222, x1: 318, y0: 367, y1: 497}, 497, 3.686, poolSizes, longP99, longP99Err, longTicks, 'P99', 'figure-10-p99-chart');
barPanel(svg4, {x0: 337, x1: 433, y0: 367, y1: 497}, 497, 3.686, poolSizes, longP995, longP995Err, longTicks, 'P99.5', 'figure-10-p995-chart');

(function () {
  const b = {x0: 105, x1: 446, y0: 708, y1: 901};
  const g = mk(svg4, 'g', {});
  
  
  const X = v => 155 + (v - 2) * 34.125;
  const Y = v => b.y1 - v * 6.8;
  const w = 0.8 * 34.125;
  fixedPoolP99.forEach((v, i) => {
    const r = mk(g, 'rect', {x: X(serviceCounts[i]) - w / 2, y: Y(v), width: w, height: b.y1 - Y(v), fill: '#1f77b4'});
    
    
    if (fixedPoolErr[i] > 0) {
      const e = mk(g, 'line', {x1: X(serviceCounts[i]), x2: X(serviceCounts[i]), y1: Y(Math.max(0, v - fixedPoolErr[i])), y2: Y(v + fixedPoolErr[i]), stroke: '#333', 'stroke-width': 0.7});
      
      
      mk(g, 'line', {x1: X(serviceCounts[i]) - 1.5, x2: X(serviceCounts[i]) + 1.5, y1: Y(v + fixedPoolErr[i]), y2: Y(v + fixedPoolErr[i]), stroke: '#333', 'stroke-width': 0.7});
      mk(g, 'line', {x1: X(serviceCounts[i]) - 1.5, x2: X(serviceCounts[i]) + 1.5, y1: Y(Math.max(0, v - fixedPoolErr[i])), y2: Y(Math.max(0, v - fixedPoolErr[i])), stroke: '#333', 'stroke-width': 0.7});
    }
  });
  fixedYTicks.forEach(t => txt(g, b.x0 - 4, Y(t) + 2, String(t), 5.5, 'end'));
  fixedXTicks.forEach(t => txt(g, X(t), b.y1 + 9, String(t), 5.5));
  txt(g, (b.x0 + b.x1) / 2, b.y1 + 17, 'number of services', 6);
  txt(g, (b.x0 + b.x1) / 2, b.y0 - 4, 'P99 Response time for different number of services with fixed pool size', 7);
  txt(g, 87, (b.y0 + b.y1) / 2, 'response time', 6, 'middle', true);
  frame(g, b);
})();
</script>
</body></html>
